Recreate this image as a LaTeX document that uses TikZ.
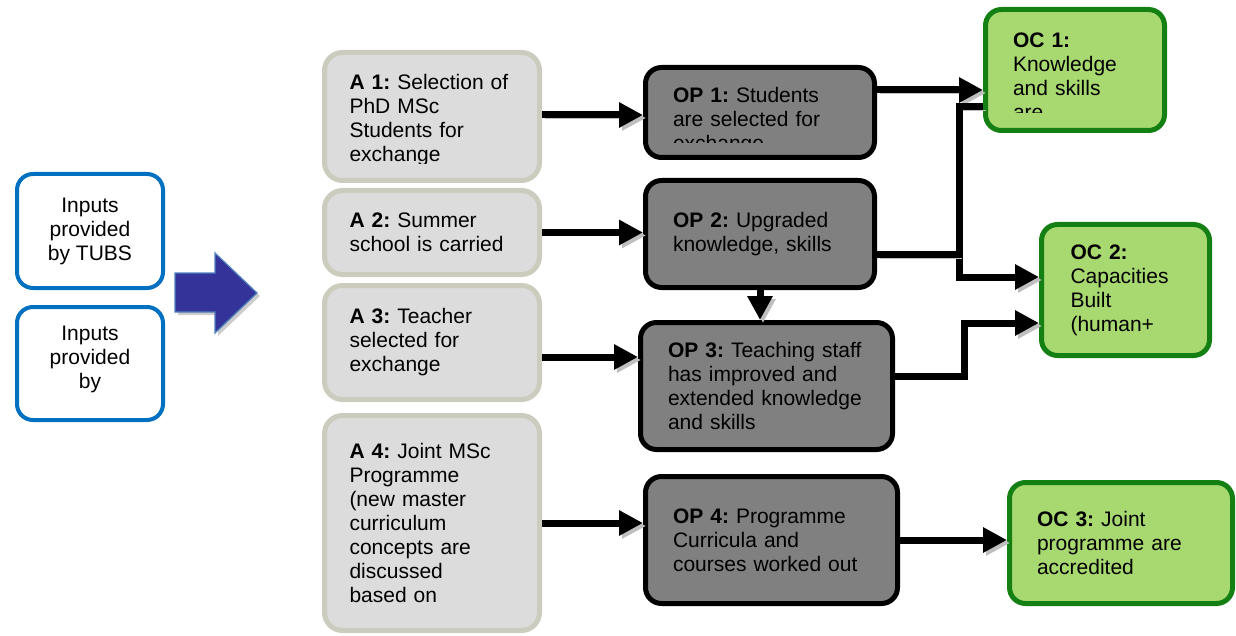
\documentclass[tikz,border=0pt]{standalone}
\usepackage{fontspec}
\setmainfont{Liberation Sans}
\usetikzlibrary{arrows.meta}
\frenchspacing

\definecolor{inblue}{RGB}{0,112,192}
\definecolor{afill}{RGB}{220,220,220}
\definecolor{aline}{RGB}{204,204,190}
\definecolor{opfill}{RGB}{128,128,128}
\definecolor{ocfill}{RGB}{168,216,112}
\definecolor{ocline}{RGB}{20,128,20}
\definecolor{bigfill}{RGB}{51,51,153}
\definecolor{bigedge}{RGB}{79,129,189}

\tikzset{
  every node/.style={font=\fontsize{10.5}{12}\selectfont},
  inbox/.style={draw=inblue, fill=white, line width=2pt, rounded corners=8pt, align=center, inner sep=0pt},
  abox/.style={draw=aline, fill=afill, line width=2.5pt, rounded corners=9pt, align=left, inner sep=0pt, minimum width=107.5pt, text width=82.5pt},
  opbox/.style={draw=black, fill=opfill, line width=2.5pt, rounded corners=8pt, align=left, inner sep=0pt},
  ocbox/.style={draw=ocline, fill=ocfill, line width=2.5pt, rounded corners=8pt, align=left, inner sep=0pt},
  txt/.style={align=left, inner sep=0pt},
  link/.style={line width=3.5pt, preaction={draw=black!25, transform canvas={shift={(1.5pt,-1.5pt)}}}},
  flow/.style={link, -{Triangle[length=12pt,width=12pt]}}
}

\begin{document}
\begin{tikzpicture}[x=0.5pt,y=0.5pt,yscale=-1,xscale=1]
\useasboundingbox (0,0) rectangle (1236,636);

%Inputs
\node[inbox, minimum width=73pt, minimum height=57pt] (in1) at (90,231) {Inputs\\provided\\by TUBS};
\node[inbox, minimum width=73pt, minimum height=56.5pt] (in2) at (90,363.5) {};
\node[txt, align=center] (in2txt) at (90,359) {Inputs\\provided\\by};

%Big arrow
\fill[black!20] (178,276) -- (218,276) -- (218,256) -- (260,296) -- (218,336) -- (218,315) -- (178,315) -- cycle;
\draw[bigedge, fill=bigfill, line width=0.6pt] (175,273) -- (215,273) -- (215,253) -- (257,293) -- (215,333) -- (215,312) -- (175,312) -- cycle;

%Activities
\node[abox, minimum height=64pt] (a1) at (432,116.5) {};
\begin{scope}
\clip (322,50) rectangle (542,164);
\node[txt, text width=82.5pt] (a1txt) at (432,120) {\textbf{A 1:} Selection of\\PhD MSc\\Students for\\exchange};
\end{scope}
\node[abox, minimum height=42pt] (a2) at (432,232.5) {\textbf{A 2:} Summer\\school is carried};
\node[abox, minimum height=57pt] (a3) at (432,342.5) {\textbf{A 3:} Teacher\\selected for\\exchange};
\node[abox, minimum height=107.5pt] (a4) at (432,523) {\textbf{A 4:} Joint MSc\\Programme\\(new master\\curriculum\\concepts are\\discussed\\based on};

%Outputs
\node[opbox, minimum width=114.5pt, minimum height=45pt] (op1) at (760,112.5) {};
\begin{scope}
\clip (643,65) rectangle (877,143);
\node[txt, text width=87pt] (op1txt) at (760,121) {\textbf{OP 1:} Students\\are selected for\\exchange};
\end{scope}
\node[opbox, minimum width=114.5pt, minimum height=53.5pt, text width=87pt] (op2) at (760,234) {\textbf{OP 2:} Upgraded\\knowledge, skills};
\node[opbox, minimum width=126pt, minimum height=63.5pt, text width=98.5pt] (op3) at (766.5,386) {\textbf{OP 3:} Teaching staff\\has improved and\\extended knowledge\\and skills};
\node[opbox, minimum width=126pt, minimum height=63.5pt, text width=98.5pt] (op4) at (771.5,540) {\textbf{OP 4:} Programme\\Curricula and\\courses worked out};

%Outcomes
\node[ocbox, minimum width=89.5pt, minimum height=60.5pt] (oc1) at (1075,70) {};
\begin{scope}
\clip (983,7) rectangle (1167,113);
\node[txt, text width=62pt] (oc1txt) at (1075,76) {\textbf{OC 1:}\\Knowledge\\and skills\\are};
\end{scope}
\node[ocbox, minimum width=84pt, minimum height=65.5pt, text width=55pt] (oc2) at (1125.5,290) {\textbf{OC 2:}\\Capacities\\Built\\(human+};
\node[ocbox, minimum width=111.5pt, minimum height=60.5pt, text width=84pt] (oc3) at (1121,543) {\textbf{OC 3:} Joint\\programme are\\accredited};

%Levels of the connectors
\coordinate (r1) at (600,115);
\coordinate (r3) at (600,357);
\coordinate (r5) at (930,90);
\coordinate (jtop) at (959,107);
\coordinate (jmid) at (959,255);
\coordinate (jbot) at (959,277);
\coordinate (k1) at (964,376);
\coordinate (k2) at (964,323);

%Arrows
\draw[flow] (a1.east |- r1) -- (op1.west |- r1);
\draw[flow] (a2.east) -- (a2.east -| op2.west);
\draw[flow] (a3.east |- r3) -- (op3.west |- r3);
\draw[flow] (a4.east) -- (a4.east -| op4.west);
\draw[flow] (op2.south) -- (op2.south |- op3.north);
\draw[flow] (op1.east |- r5) -- (oc1.west |- r5);
\draw[flow] (oc1.west |- jtop) -- (jtop) |- (oc2.west |- jbot);
\draw[link] (op2.east |- jmid) -- (jmid);
\draw[flow] (op3.east |- k1) -- (k1) |- (oc2.west |- k2);
\draw[flow] (op4.east) -- (op4.east -| oc3.west);

\end{tikzpicture}
\end{document}
